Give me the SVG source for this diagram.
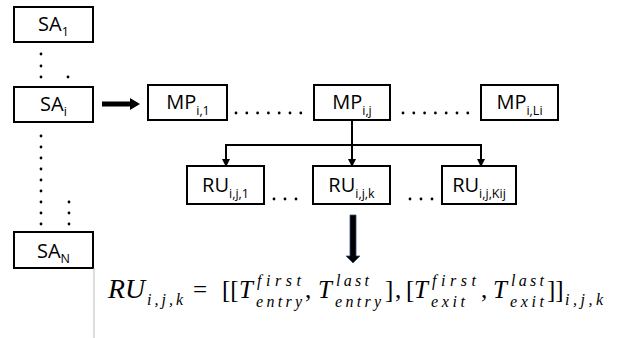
<svg xmlns="http://www.w3.org/2000/svg" width="619" height="338" viewBox="0 0 619 338">
<style>
.box{fill:#fff;stroke:#000;stroke-width:2}
.lbl{font-family:"Open Sans","Liberation Sans",sans-serif;font-size:20px;fill:#000;text-anchor:middle}
.sub{font-size:12.5px}
.dot{fill:#000}
.ln{stroke:#000;stroke-width:2;fill:none}
.m{font-family:"Liberation Serif",serif;font-style:italic;font-size:25px;fill:#000}
.r{font-family:"Liberation Serif",serif;font-size:25px;fill:#000}
.s{font-family:"Liberation Serif",serif;font-style:italic;font-size:16px;fill:#000}
</style>
<defs>
<marker id="ah" markerWidth="8" markerHeight="8" refX="7" refY="4" orient="auto" markerUnits="userSpaceOnUse">
<path d="M0,0 L8,4 L0,8 z" fill="#000"/>
</marker>
</defs>
<g id="SA1"><rect class="box" x="14" y="7" width="79" height="35"/><text class="lbl" x="53.5" y="31">SA<tspan class="sub" dy="5">1</tspan></text></g>
<g id="SAi"><rect class="box" x="14" y="87" width="79" height="35"/><text class="lbl" x="53.5" y="111">SA<tspan class="sub" dy="5">i</tspan></text></g>
<g id="SAN"><rect class="box" x="14" y="232" width="79" height="36"/><text class="lbl" x="53.5" y="258">SA<tspan class="sub" dy="5">N</tspan></text></g>
<g id="MPi1"><rect class="box" x="148" y="85" width="79" height="35"/><text class="lbl" x="188" y="109">MP<tspan class="sub" dy="6">i,1</tspan></text></g>
<g id="MPij"><rect class="box" x="314" y="85" width="76" height="35"/><text class="lbl" x="352" y="109">MP<tspan class="sub" dy="6">i,j</tspan></text></g>
<g id="MPiLi"><rect class="box" x="481" y="85" width="77" height="35"/><text class="lbl" x="519.5" y="109">MP<tspan class="sub" dy="6">i,Li</tspan></text></g>
<g id="RUij1"><rect class="box" x="187" y="166" width="77" height="38"/><text class="lbl" x="225.5" y="192">RU<tspan class="sub" dy="6">i,j,1</tspan></text></g>
<g id="RUijk"><rect class="box" x="313" y="166" width="77" height="38"/><text class="lbl" x="351.5" y="192">RU<tspan class="sub" dy="6">i,j,k</tspan></text></g>
<g id="RUijKij"><rect class="box" x="442" y="166" width="74" height="38"/><text class="lbl" x="479" y="192">RU<tspan class="sub" dy="6">i,j,Kij</tspan></text></g>
<g id="dots">
<circle class="dot" cx="41" cy="54" r="1.4"/><circle class="dot" cx="41" cy="66" r="1.4"/><circle class="dot" cx="41" cy="77" r="1.4"/><circle class="dot" cx="68" cy="77" r="1.4"/>
<circle class="dot" cx="41" cy="136" r="1.4"/><circle class="dot" cx="41" cy="147" r="1.4"/><circle class="dot" cx="41" cy="158" r="1.4"/><circle class="dot" cx="41" cy="169" r="1.4"/><circle class="dot" cx="41" cy="180" r="1.4"/><circle class="dot" cx="41" cy="191" r="1.4"/><circle class="dot" cx="41" cy="202" r="1.4"/><circle class="dot" cx="41" cy="213" r="1.4"/><circle class="dot" cx="41" cy="224" r="1.4"/>
<circle class="dot" cx="69" cy="202" r="1.4"/><circle class="dot" cx="69" cy="213" r="1.4"/><circle class="dot" cx="69" cy="224" r="1.4"/>
<circle class="dot" cx="236" cy="113" r="1.4"/><circle class="dot" cx="246.8" cy="113" r="1.4"/><circle class="dot" cx="257.6" cy="113" r="1.4"/><circle class="dot" cx="268.4" cy="113" r="1.4"/><circle class="dot" cx="279.2" cy="113" r="1.4"/><circle class="dot" cx="290" cy="113" r="1.4"/><circle class="dot" cx="300.8" cy="113" r="1.4"/>
<circle class="dot" cx="403" cy="113" r="1.4"/><circle class="dot" cx="413.8" cy="113" r="1.4"/><circle class="dot" cx="424.6" cy="113" r="1.4"/><circle class="dot" cx="435.4" cy="113" r="1.4"/><circle class="dot" cx="446.2" cy="113" r="1.4"/><circle class="dot" cx="457" cy="113" r="1.4"/><circle class="dot" cx="467.8" cy="113" r="1.4"/>
<circle class="dot" cx="274" cy="199" r="1.4"/><circle class="dot" cx="285" cy="199" r="1.4"/><circle class="dot" cx="296" cy="199" r="1.4"/>
<circle class="dot" cx="410" cy="199" r="1.4"/><circle class="dot" cx="421" cy="199" r="1.4"/><circle class="dot" cx="432" cy="199" r="1.4"/>
</g>
<g id="connectors">
<path d="M102,101.5 H130 V98 L140,104 L130,110 V106.5 H102 z" fill="#000"/>
<line class="ln" x1="352" y1="120" x2="352" y2="166" marker-end="url(#ah)"/>
<path class="ln" d="M226,166 V145 H481 V166" stroke-linejoin="miter"/>
<line class="ln" x1="226" y1="150" x2="226" y2="166" marker-end="url(#ah)"/>
<line class="ln" x1="481" y1="150" x2="481" y2="166" marker-end="url(#ah)"/>
<path d="M350,215 H356 V256 H360 L353,263 L346,256 H350 z" fill="#000" stroke="#2f4f7f" stroke-width="0.8"/>
<line x1="94" y1="268" x2="94" y2="338" stroke="#bbb" stroke-width="1"/>
</g>
<g id="formula">
<text class="m" x="108" y="298" style="font-size:27px" textLength="37" lengthAdjust="spacingAndGlyphs">RU</text>
<text class="s" x="147" y="305" textLength="36" lengthAdjust="spacing">i,j,k</text>
<text class="r" x="193" y="298">=</text>
<text class="r" x="222" y="298">[[</text>
<text class="m" x="239" y="298">T</text>
<text class="s" x="257" y="286" textLength="44" lengthAdjust="spacing">first</text>
<text class="s" x="256" y="307" textLength="46" lengthAdjust="spacing">entry</text>
<text class="r" x="305" y="298">,</text>
<text class="m" x="318" y="298">T</text>
<text class="s" x="336" y="286" textLength="33" lengthAdjust="spacing">last</text>
<text class="s" x="335" y="307" textLength="46" lengthAdjust="spacing">entry</text>
<text class="r" x="385" y="298">]</text>
<text class="r" x="395" y="298">,</text>
<text class="r" x="406" y="298">[</text>
<text class="m" x="414" y="298">T</text>
<text class="s" x="432" y="286" textLength="44" lengthAdjust="spacing">first</text>
<text class="s" x="431" y="307" textLength="34" lengthAdjust="spacing">exit</text>
<text class="r" x="481" y="298">,</text>
<text class="m" x="493" y="298">T</text>
<text class="s" x="511" y="286" textLength="33" lengthAdjust="spacing">last</text>
<text class="s" x="510" y="307" textLength="34" lengthAdjust="spacing">exit</text>
<text class="r" x="547" y="298">]]</text>
<text class="s" x="565" y="305" textLength="38" lengthAdjust="spacing">i,j,k</text>
</g>
</svg>
